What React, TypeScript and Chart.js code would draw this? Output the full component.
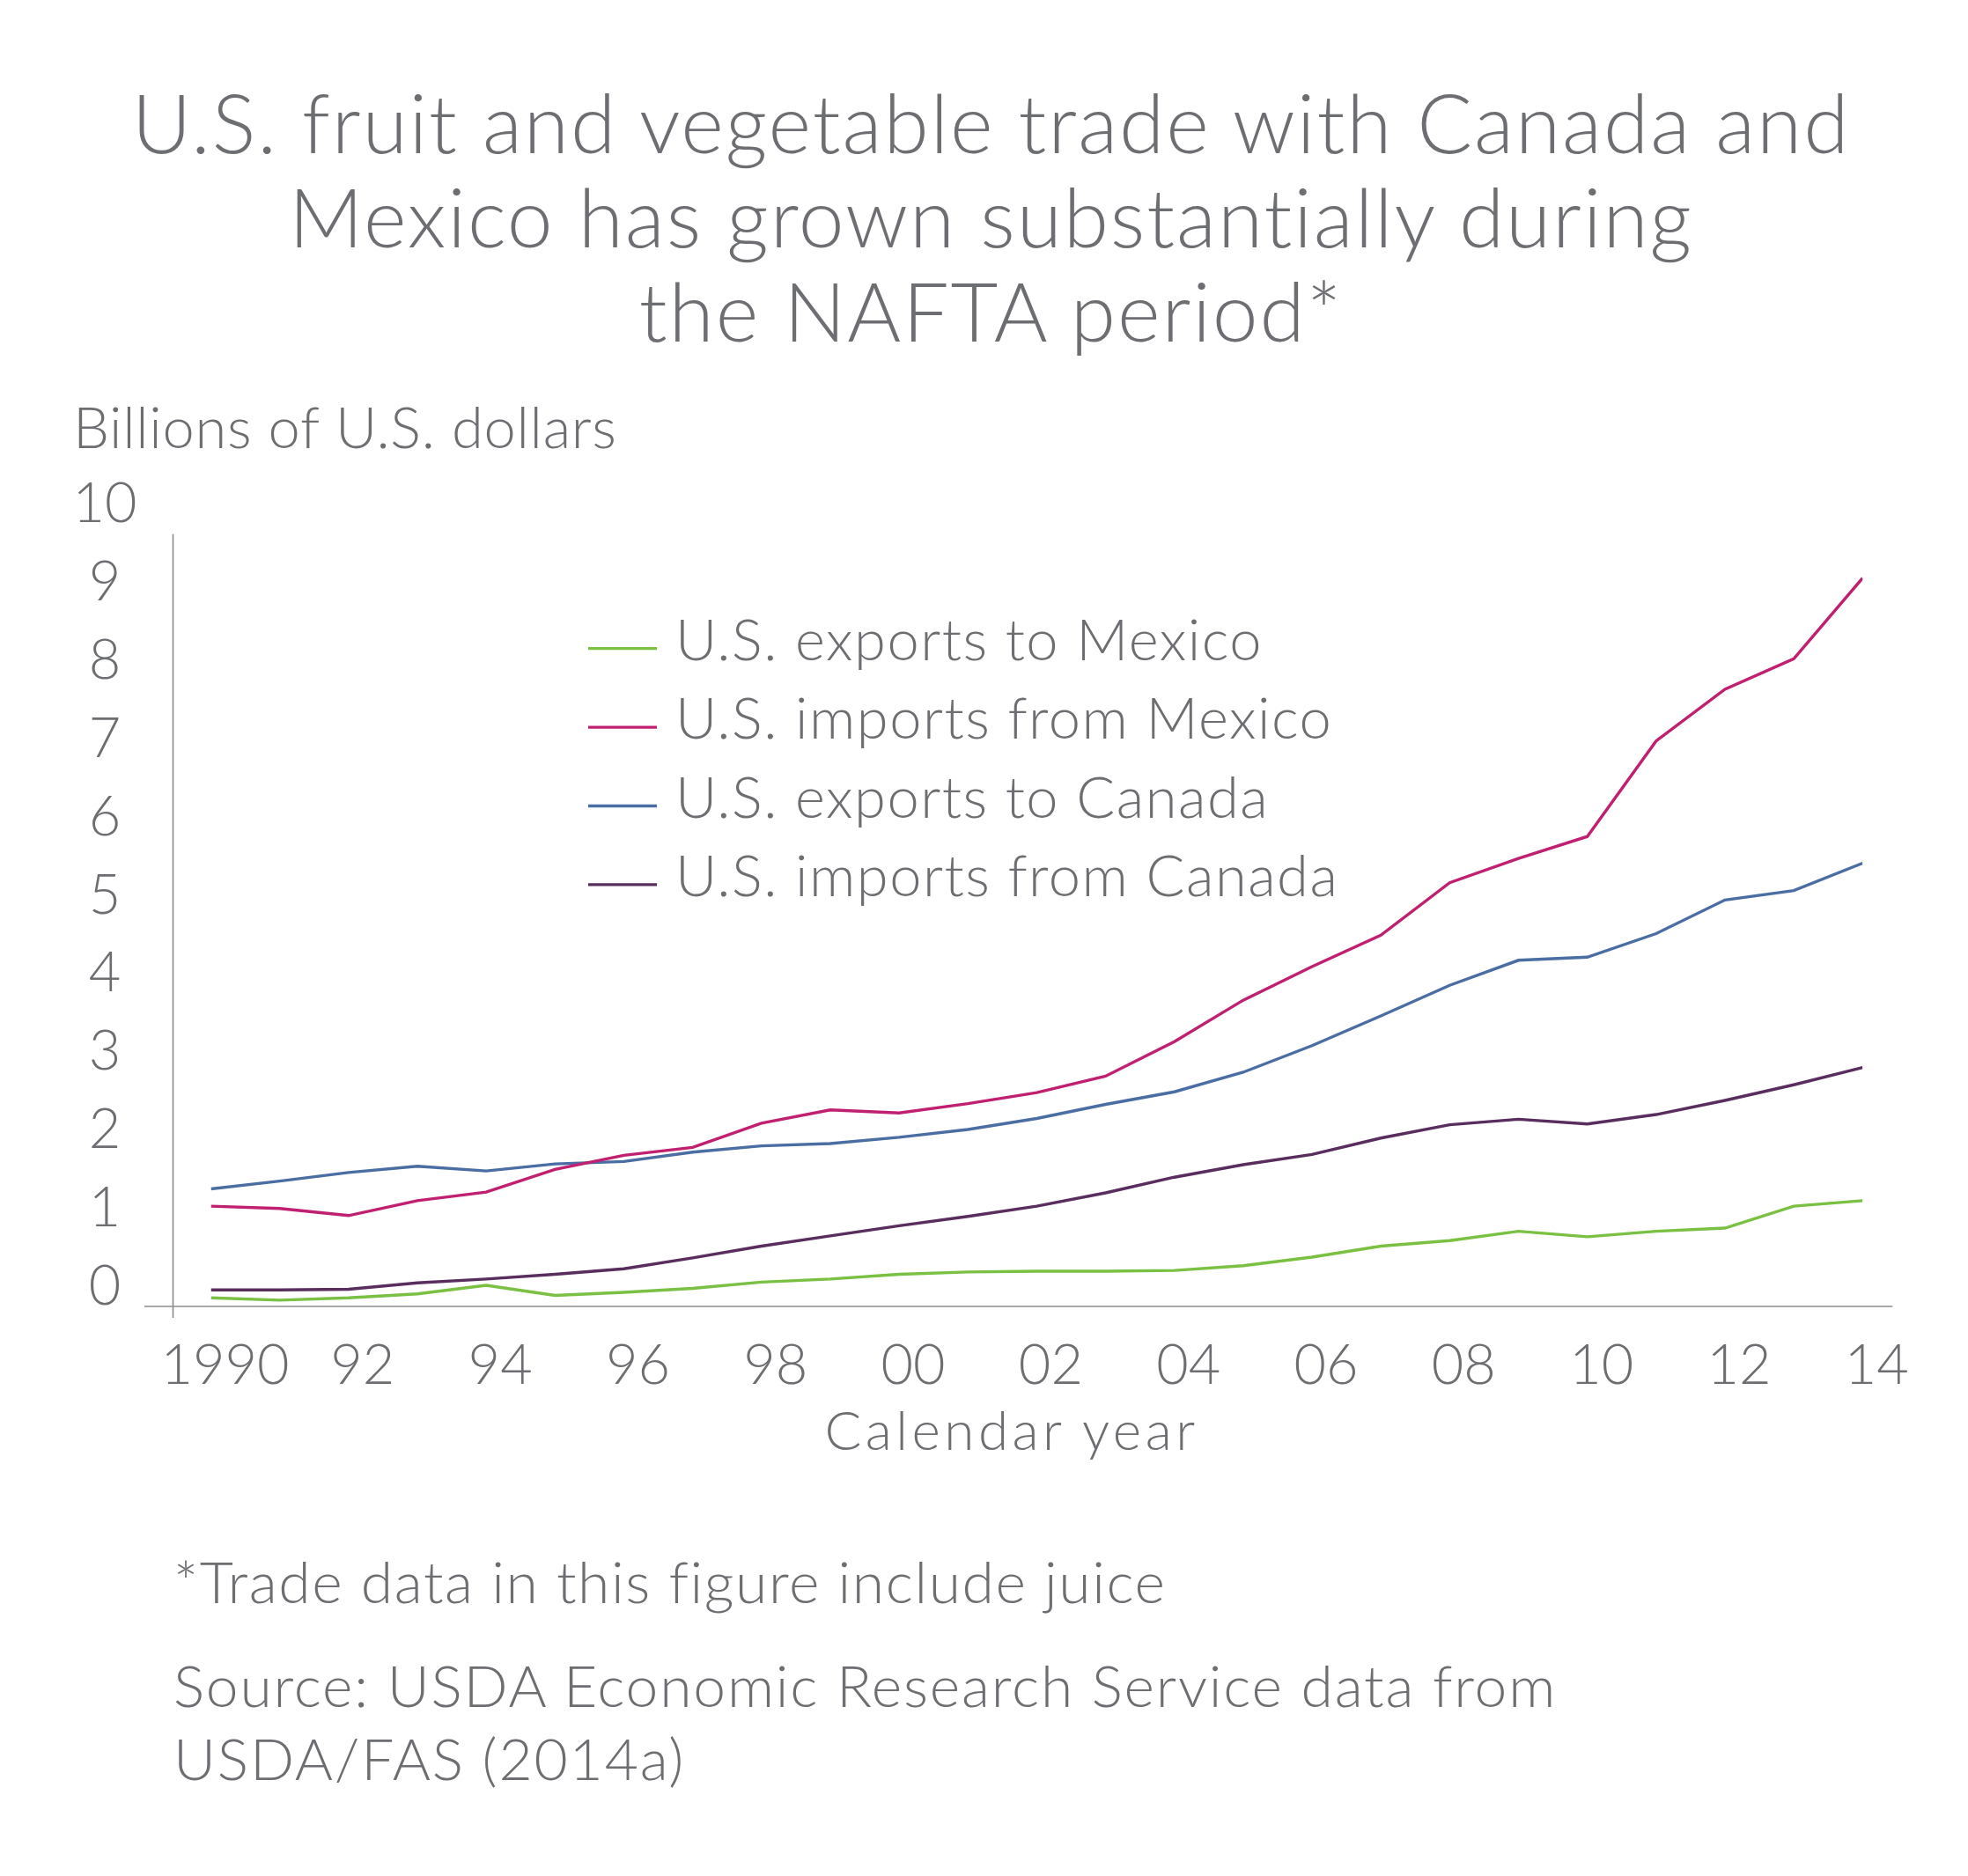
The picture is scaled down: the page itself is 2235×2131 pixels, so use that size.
import React, { useEffect, useRef } from 'react';
import { Chart, registerables } from 'chart.js';

Chart.register(...registerables);

// ---------- data ----------
const years = [1990, 1991, 1992, 1993, 1994, 1995, 1996, 1997, 1998, 1999, 2000, 2001, 2002, 2003, 2004, 2005, 2006, 2007, 2008, 2009, 2010, 2011, 2012, 2013, 2014];
const xTickYears = [1990, 1992, 1994, 1996, 1998, 2000, 2002, 2004, 2006, 2008, 2010, 2012, 2014];
const xTickLabels = ['1990', '92', '94', '96', '98', '00', '02', '04', '06', '08', '10', '12', '14'];

const exportsToMexico = [0.11, 0.08, 0.11, 0.16, 0.27, 0.14, 0.18, 0.23, 0.31, 0.35, 0.41, 0.44, 0.45, 0.45, 0.46, 0.52, 0.63, 0.77, 0.84, 0.96, 0.89, 0.96, 1.0, 1.28, 1.35];
const importsFromMexico = [1.28, 1.25, 1.16, 1.35, 1.46, 1.75, 1.93, 2.03, 2.34, 2.51, 2.47, 2.59, 2.73, 2.94, 3.38, 3.91, 4.34, 4.74, 5.41, 5.72, 6.0, 7.22, 7.88, 8.27, 9.3];
const exportsToCanada = [1.5, 1.6, 1.71, 1.79, 1.73, 1.82, 1.85, 1.97, 2.05, 2.08, 2.16, 2.26, 2.4, 2.58, 2.74, 2.99, 3.33, 3.71, 4.1, 4.42, 4.46, 4.76, 5.19, 5.31, 5.66];
const importsFromCanada = [0.21, 0.21, 0.22, 0.3, 0.35, 0.41, 0.48, 0.62, 0.77, 0.9, 1.03, 1.15, 1.28, 1.45, 1.65, 1.81, 1.94, 2.15, 2.32, 2.39, 2.33, 2.45, 2.63, 2.83, 3.05];

const seriesLabels = ['U.S. exports to Mexico', 'U.S. imports from Mexico', 'U.S. exports to Canada', 'U.S. imports from Canada'];
const seriesValues = [exportsToMexico, importsFromMexico, exportsToCanada, importsFromCanada];
const seriesColors = ['#7ac143', '#c0206f', '#4a6ea3', '#592d5e'];

const titleLines = ['U.S. fruit and vegetable trade with Canada and', 'Mexico has grown substantially during', 'the NAFTA period*'];
const yAxisTitle = 'Billions of U.S. dollars';
const xAxisTitle = 'Calendar year';
const footnotes = ['*Trade data in this figure include juice'];
const sourceLines = ['Source: USDA Economic Research Service data from', 'USDA/FAS (2014a)'];

// ---------- styles ----------
const FONT = "Lato, 'Open Sans', 'Noto Sans', sans-serif";
const TEXT = '#6d6e71';
const AXIS = '#8c8c8c';

const decorPlugin = {
  id: 'decor',
  beforeDatasetsDraw(chart: any) {
    const { ctx, chartArea } = chart;
    const y = chart.scales.y;
    const y0 = y.getPixelForValue(0);
    ctx.save();
    ctx.strokeStyle = AXIS;
    ctx.lineWidth = 1.6;
    ctx.beginPath();
    ctx.moveTo(chartArea.left - 75.5, y0);
    ctx.lineTo(chartArea.right + 34, y0);
    const ax = chartArea.left - 43;
    ctx.moveTo(ax, y.getPixelForValue(9.86));
    ctx.lineTo(ax, y0 + 13);
    ctx.stroke();
    ctx.restore();
  },
  afterDatasetsDraw(chart: any) {
    const { ctx } = chart;
    ctx.save();
    chart.data.datasets.forEach((ds: any, i: number) => {
      const ly = 196.7 + i * 89.4;
      ctx.strokeStyle = ds.borderColor;
      ctx.lineWidth = 3.3;
      ctx.beginPath();
      ctx.moveTo(668, ly);
      ctx.lineTo(746, ly);
      ctx.stroke();
      ctx.fillStyle = TEXT;
      ctx.font = `300 65px ${FONT}`;
      (ctx as any).letterSpacing = '1.5px';
      ctx.textBaseline = 'alphabetic';
      ctx.textAlign = 'left';
      ctx.fillText(ds.label, 767, ly + 13.3);
    });
    ctx.restore();
  },
};

function TradeChart() {
  const ref = useRef<HTMLCanvasElement | null>(null);
  useEffect(() => {
    if (!ref.current) return;
    const chart = new Chart(ref.current, {
      type: 'line',
      data: {
        labels: years,
        datasets: seriesLabels.map((label, i) => ({
          label,
          data: years.map((yr, j) => ({ x: yr, y: seriesValues[i][j] })),
          borderColor: seriesColors[i],
          backgroundColor: seriesColors[i],
          borderWidth: 3.4,
          pointRadius: 0,
          tension: 0,
          fill: false,
        })),
      },
      options: {
        animation: false,
        responsive: false,
        maintainAspectRatio: false,
        events: [],
        layout: { padding: { left: 0, right: 119.7, top: 54.4, bottom: 0 } },
        plugins: { legend: { display: false }, tooltip: { enabled: false }, title: { display: false } },
        scales: {
          x: {
            type: 'linear',
            min: years[0],
            max: years[years.length - 1],
            grid: { display: false, drawTicks: false },
            border: { display: false },
            afterBuildTicks: (scale: any) => {
              scale.ticks = xTickYears.map((v) => ({ value: v }));
            },
            afterFit: (scale: any) => {
              scale.height = 216;
              scale.paddingLeft = 0;
              scale.paddingRight = 0;
            },
            ticks: {
              autoSkip: false,
              maxRotation: 0,
              padding: 30,
              labelOffset: 16,
              color: TEXT,
              font: { family: FONT, size: 63, weight: '300' },
              callback: (v: any) => {
                const idx = xTickYears.indexOf(Number(v));
                return idx >= 0 ? xTickLabels[idx] : '';
              },
            },
          },
          y: {
            min: 0,
            max: 10,
            grid: { display: false, drawTicks: false },
            border: { display: false },
            afterFit: (scale: any) => {
              scale.width = 239.5;
              scale.paddingTop = 0;
              scale.paddingBottom = 0;
            },
            ticks: {
              stepSize: 1,
              padding: 84,
              crossAlign: 'center',
              labelOffset: -22,
              color: TEXT,
              font: { family: FONT, size: 63, weight: '300' },
            },
          },
        },
      },
      plugins: [decorPlugin],
    } as any);
    return () => chart.destroy();
  }, []);
  return (
    <canvas
      ref={ref}
      width={2235}
      height={1160}
      style={{ position: 'absolute', left: 0, top: 540, width: 2235, height: 1160 }}
    />
  );
}

export default function App() {
  const base: React.CSSProperties = { position: 'absolute', color: TEXT, fontFamily: FONT, fontWeight: 300, whiteSpace: 'nowrap', margin: 0 };
  return (
    <div style={{ position: 'absolute', left: 0, top: 0, width: 2235, height: 2131, background: '#fff', overflow: 'hidden' }}>
      <div style={{ ...base, left: 8, top: 84.5, width: 2235, textAlign: 'center', fontSize: 93, lineHeight: '107px', letterSpacing: '1.9px' }}>
        {titleLines.map((t) => (
          <div key={t}>{t}</div>
        ))}
      </div>
      <div style={{ ...base, left: 83, top: 452, fontSize: 65, lineHeight: '65px', letterSpacing: '0.7px' }}>{yAxisTitle}</div>
      <TradeChart />
      <div style={{ ...base, left: 649, top: 1592, width: 1000, textAlign: 'center', fontSize: 62, lineHeight: '62px', letterSpacing: '4.5px' }}>{xAxisTitle}</div>
      <div style={{ ...base, left: 197, top: 1763, fontSize: 66, lineHeight: '66px', letterSpacing: '1.6px' }}>{footnotes[0]}</div>
      <div style={{ ...base, left: 197, top: 1872, fontSize: 66, lineHeight: '83px', letterSpacing: '1.8px' }}>
        {sourceLines.map((t) => (
          <div key={t}>{t}</div>
        ))}
      </div>
    </div>
  );
}
